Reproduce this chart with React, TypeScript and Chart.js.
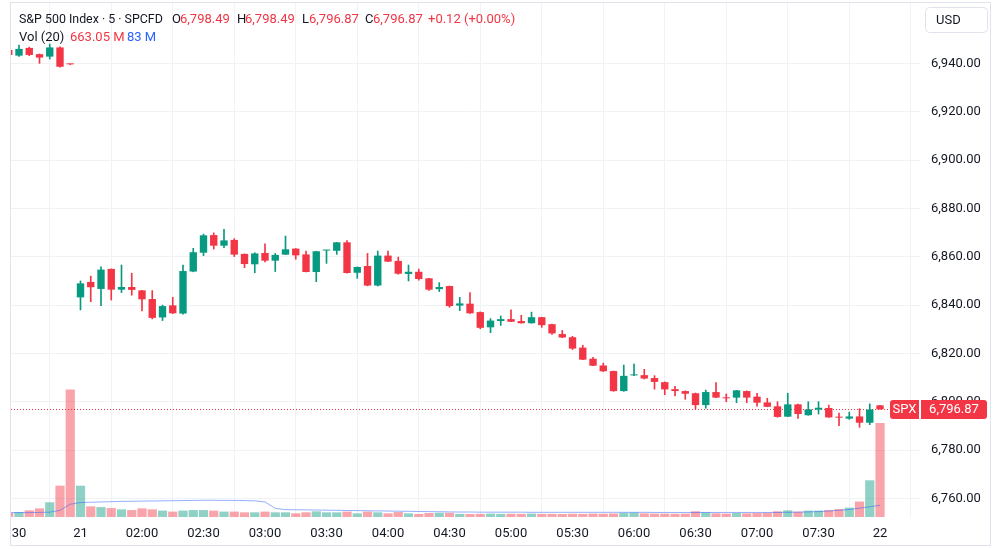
import React, { useEffect, useRef } from "react";
import { Chart, registerables } from "chart.js";

Chart.register(...registerables);

// Candle index of the first entry in the arrays below (one candle is partly cut off on the left)
const FIRST_INDEX = -1;

const opens = [
  6945.6, 6943.3, 6946.5, 6943.9, 6942.9, 6946.7, 6939.8,
  6843.2, 6849.6, 6846.7, 6855.0, 6846.4, 6847.5, 6846.1, 6842.5, 6834.9, 6839.9,
  6836.5, 6853.9, 6861.7, 6869.0, 6864.6, 6867.0, 6861.2, 6856.9, 6861.6, 6858.4,
  6860.9, 6863.4, 6861.0, 6853.7, 6862.6, 6862.5, 6866.0, 6853.4, 6856.2, 6848.1,
  6860.5, 6858.3, 6852.9, 6853.8, 6851.1, 6846.6, 6847.9, 6839.8, 6840.6, 6837.1,
  6830.8, 6833.4, 6834.2, 6833.4, 6832.5, 6835.0, 6832.1, 6828.0, 6826.7, 6822.4,
  6817.8, 6815.0, 6812.7, 6804.4, 6810.9, 6811.0, 6809.8, 6808.1, 6805.2, 6804.4,
  6803.5, 6798.6, 6804.0, 6801.7, 6801.7, 6804.4, 6802.1, 6799.7, 6798.1, 6793.8,
  6798.9, 6794.4, 6796.7, 6797.4, 6793.7, 6793.0, 6793.9, 6791.3, 6798.49,
];
const highs = [
  6946.5, 6947.7, 6946.8, 6944.0, 6948.1, 6947.0, 6939.8,
  6850.0, 6852.0, 6855.9, 6855.0, 6856.6, 6853.2, 6846.1, 6846.0, 6840.0, 6843.2,
  6856.6, 6863.5, 6869.4, 6869.9, 6871.4, 6867.5, 6861.2, 6861.7, 6865.4, 6861.4,
  6868.6, 6863.4, 6862.4, 6862.3, 6862.7, 6866.0, 6866.7, 6855.8, 6861.4, 6862.4,
  6862.4, 6859.9, 6856.6, 6854.9, 6851.1, 6849.3, 6847.9, 6843.2, 6845.2, 6837.2,
  6834.4, 6835.5, 6838.0, 6835.8, 6837.1, 6835.0, 6832.1, 6829.5, 6827.1, 6823.4,
  6818.4, 6816.0, 6812.7, 6815.2, 6815.6, 6813.4, 6810.8, 6808.2, 6806.4, 6804.5,
  6803.6, 6804.8, 6807.9, 6803.2, 6804.7, 6804.5, 6803.5, 6801.4, 6800.0, 6803.5,
  6799.0, 6800.0, 6800.0, 6798.6, 6795.3, 6795.7, 6797.1, 6799.1, 6798.49,
];
const lows = [
  6943.0, 6943.0, 6943.3, 6940.1, 6941.9, 6938.5, 6939.6,
  6838.0, 6841.4, 6839.8, 6842.1, 6845.2, 6844.1, 6837.6, 6834.3, 6833.6, 6836.5,
  6836.3, 6853.8, 6860.5, 6863.2, 6863.8, 6860.1, 6855.5, 6853.4, 6857.9, 6853.9,
  6860.9, 6859.0, 6853.7, 6849.7, 6857.3, 6861.0, 6853.2, 6851.1, 6848.0, 6847.9,
  6858.0, 6852.8, 6850.0, 6850.3, 6846.1, 6845.6, 6839.1, 6837.7, 6836.6, 6830.2,
  6828.6, 6831.6, 6833.1, 6832.5, 6832.5, 6830.8, 6827.9, 6826.5, 6821.6, 6817.4,
  6814.9, 6812.5, 6804.3, 6804.3, 6810.8, 6809.4, 6805.2, 6802.9, 6802.4, 6801.0,
  6797.0, 6797.3, 6801.7, 6800.0, 6799.6, 6799.6, 6798.2, 6797.9, 6793.6, 6793.8,
  6793.1, 6794.4, 6794.9, 6793.5, 6790.1, 6792.7, 6789.4, 6790.5, 6796.87,
];
const closes = [
  6943.6, 6946.1, 6943.6, 6942.5, 6946.7, 6938.7, 6939.7,
  6849.0, 6847.4, 6854.7, 6846.4, 6847.5, 6846.3, 6842.4, 6834.7, 6839.6, 6836.6,
  6854.1, 6861.9, 6868.9, 6864.6, 6866.8, 6860.9, 6857.0, 6861.4, 6858.4, 6860.8,
  6863.1, 6860.6, 6853.7, 6862.3, 6862.7, 6866.0, 6853.3, 6855.8, 6848.1, 6860.5,
  6858.0, 6853.0, 6853.8, 6850.8, 6846.4, 6847.5, 6839.6, 6840.7, 6836.6, 6830.6,
  6833.6, 6834.2, 6833.1, 6832.5, 6835.0, 6831.7, 6828.3, 6826.6, 6822.0, 6817.4,
  6814.9, 6812.6, 6804.4, 6810.7, 6811.0, 6809.6, 6808.2, 6805.1, 6804.4, 6803.3,
  6798.6, 6804.0, 6801.7, 6801.4, 6804.7, 6801.7, 6799.6, 6797.9, 6793.7, 6798.9,
  6794.9, 6796.8, 6797.5, 6793.5, 6793.4, 6793.9, 6791.3, 6796.8, 6796.87,
];
// Volume in millions
const volumes = [
  30, 35, 47, 61, 104, 221, 900,
  221, 75, 70, 63, 54, 49, 61, 54, 45, 38,
  45, 49, 49, 45, 38, 38, 33, 33, 38, 33,
  33, 26, 33, 40, 33, 33, 38, 26, 38, 33,
  26, 35, 26, 21, 28, 30, 30, 22, 21, 22,
  24, 22, 23, 22, 24, 22, 22, 21, 23, 22,
  24, 23, 25, 30, 32, 26, 24, 24, 23, 24,
  40, 33, 26, 24, 28, 26, 28, 30, 40, 47,
  38, 45, 45, 49, 56, 66, 109, 259, 663.05,
];
// Vol (20) moving-average line, millions
const volMA = [
  31, 31, 31, 32, 34, 47, 90,
  102, 104, 106, 108, 110, 111, 112, 113, 114, 115,
  116, 117, 118, 118, 117, 117, 116, 114, 106, 61,
  52, 51, 50, 49, 48, 47, 46, 45, 44, 43,
  42, 41, 40, 39, 38, 37, 36, 35, 35, 34,
  34, 34, 34, 34, 33, 33, 33, 33, 33, 33,
  33, 33, 33, 33, 33, 33, 32, 32, 32, 32,
  32, 32, 32, 32, 32, 32, 32, 32, 32, 33,
  34, 36, 38, 42, 47, 53, 62, 72, 83,
];

const timeTickIdx = [0, 6, 12, 18, 24, 30, 36, 42, 48, 54, 60, 66, 72, 78, 84];
const timeTickLabels = [
  "30", "21", "02:00", "02:30", "03:00", "03:30", "04:00", "04:30",
  "05:00", "05:30", "06:00", "06:30", "07:00", "07:30", "22",
];
const priceTicks = [6760, 6780, 6800, 6820, 6840, 6860, 6880, 6900, 6920, 6940];

const LAST_PRICE = 6796.87;
const UP = "#089981";
const DOWN = "#F23645";
const UP_VOL = "rgba(8,153,129,0.45)";
const DOWN_VOL = "rgba(242,54,69,0.45)";
const FONT = "Roboto, 'Noto Sans', sans-serif";
const TEXT = "#131722";

const fmt = (v: number) =>
  v.toLocaleString("en-US", { minimumFractionDigits: 2, maximumFractionDigits: 2 });

export default function App() {
  const ref = useRef<HTMLCanvasElement | null>(null);

  useEffect(() => {
    const canvas = ref.current;
    if (!canvas) return;
    const idx = opens.map((_, k) => k + FIRST_INDEX);
    const isUp = opens.map((o, k) => closes[k] >= o);
    const candleColors = isUp.map((u) => (u ? UP : DOWN));
    const volColors = isUp.map((u) => (u ? UP_VOL : DOWN_VOL));

    const overlay = {
      id: "overlay",
      beforeDatasetsDraw(chart: any) {
        const { ctx, chartArea, scales } = chart;
        const y = Math.round(scales.y.getPixelForValue(LAST_PRICE)) + 0.5;
        ctx.save();
        ctx.strokeStyle = DOWN;
        ctx.lineWidth = 1;
        ctx.setLineDash([1, 2]);
        ctx.beginPath();
        ctx.moveTo(chartArea.left, y);
        ctx.lineTo(chartArea.right, y);
        ctx.stroke();
        ctx.restore();
      },
      afterDraw(chart: any) {
        const { ctx, chartArea, scales } = chart;
        ctx.save();
        // widget frame
        ctx.strokeStyle = "#E0E3EB";
        ctx.lineWidth = 1;
        ctx.strokeRect(10.5, 2.5, 980, 543);

        ctx.textBaseline = "middle";
        const put = (t: string, x: number, yy: number, c: string, size = 13) => {
          ctx.font = `${size}px ${FONT}`;
          ctx.fillStyle = c;
          ctx.fillText(t, x, yy);
        };
        // legend line 1
        const l1 = 20;
        put("S&P 500 Index · 5 · SPCFD", 19, l1, TEXT, 12.4);
        put("O", 172, l1, TEXT);
        put(fmt(opens[opens.length - 1]), 180, l1, DOWN);
        put("H", 237, l1, TEXT);
        put(fmt(highs[highs.length - 1]), 245, l1, DOWN);
        put("L", 302, l1, TEXT);
        put(fmt(lows[lows.length - 1]), 309, l1, DOWN);
        put("C", 365, l1, TEXT);
        put(fmt(closes[closes.length - 1]), 373, l1, DOWN);
        put("+0.12 (+0.00%)", 428, l1, DOWN);
        // legend line 2
        const l2 = 38;
        put("Vol (20)", 19, l2, TEXT);
        put("663.05 M", 70, l2, DOWN);
        put("83 M", 127, l2, "#2962FF");

        // USD box
        ctx.strokeStyle = "#E0E3EB";
        ctx.beginPath();
        ctx.roundRect(925.5, 7.5, 62, 25, 4);
        ctx.stroke();
        put("USD", 936, 20.5, TEXT);

        // last price labels
        const py = scales.y.getPixelForValue(LAST_PRICE);
        const top = Math.round(py) - 9;
        ctx.fillStyle = DOWN;
        ctx.beginPath();
        ctx.roundRect(890, top, 29, 19, [3, 0, 0, 3]);
        ctx.fill();
        ctx.beginPath();
        ctx.roundRect(chartArea.right + 1, top, 66, 19, [0, 3, 3, 0]);
        ctx.fill();
        ctx.fillStyle = "#FFFFFF";
        ctx.textAlign = "center";
        ctx.font = `13px ${FONT}`;
        ctx.fillText("SPX", 904.5, top + 10);
        ctx.fillText(fmt(LAST_PRICE), chartArea.right + 34, top + 10);
        ctx.restore();
      },
    };

    const chart = new Chart(canvas, {
      type: "bar",
      data: {
        datasets: [
          {
            type: "bar",
            data: idx.map((x, k) => ({ x, y: [opens[k], closes[k]] })),
            backgroundColor: candleColors,
            borderWidth: 0,
            barPercentage: 0.72,
            categoryPercentage: 1,
            grouped: false,
            minBarLength: 1,
            yAxisID: "y",
            order: 0,
          },
          {
            type: "bar",
            data: idx.map((x, k) => ({ x, y: [lows[k], highs[k]] })),
            backgroundColor: candleColors,
            borderWidth: 0,
            barThickness: 1,
            grouped: false,
            yAxisID: "y",
            order: 1,
          },
          {
            type: "line",
            data: idx.map((x, k) => ({ x, y: volMA[k] })),
            borderColor: "rgba(41,98,255,0.5)",
            borderWidth: 1,
            pointRadius: 0,
            yAxisID: "vol",
            order: 2,
          },
          {
            type: "bar",
            data: idx.map((x, k) => ({ x, y: volumes[k] })),
            backgroundColor: volColors,
            borderWidth: 0,
            barPercentage: 0.9,
            categoryPercentage: 1,
            grouped: false,
            yAxisID: "vol",
            order: 3,
          },
        ] as any,
      },
      options: {
        responsive: false,
        animation: false,
        layout: { padding: { left: 11, top: 3, right: 0, bottom: 0 } },
        plugins: { legend: { display: false }, tooltip: { enabled: false } },
        scales: {
          x: {
            type: "linear",
            min: -0.78,
            max: 87.9,
            offset: false,
            border: { display: false },
            grid: {
              drawTicks: false,
              color: (c: any) => (c.tick && c.tick.value === 0 ? "rgba(0,0,0,0)" : "#F0F2F5"),
            },
            ticks: {
              autoSkip: false,
              maxRotation: 0,
              padding: 9,
              color: TEXT,
              font: { family: FONT, size: 13 },
              callback: (v: any) => {
                const p = timeTickIdx.indexOf(Number(v));
                return p >= 0 ? timeTickLabels[p] : "";
              },
            },
            afterBuildTicks: (s: any) => {
              s.ticks = timeTickIdx.map((value) => ({ value }));
            },
            afterFit: (s: any) => {
              s.height = 32;
              s.paddingLeft = 0;
              s.paddingRight = 0;
            },
          },
          y: {
            type: "linear",
            position: "right",
            min: 6752.26,
            max: 6965.1,
            border: { display: false },
            grid: { drawTicks: false, color: "#F0F2F5" },
            ticks: {
              padding: 11,
              color: TEXT,
              font: { family: FONT, size: 13 },
              callback: (v: any) => fmt(Number(v)),
            },
            afterBuildTicks: (s: any) => {
              s.ticks = priceTicks.map((value) => ({ value }));
            },
            afterFit: (s: any) => {
              s.width = 80;
              s.paddingTop = 0;
              s.paddingBottom = 0;
            },
          },
          vol: {
            type: "linear",
            display: false,
            min: 0,
            max: 3626,
          },
        },
      } as any,
      plugins: [overlay],
    });
    return () => chart.destroy();
  }, []);

  return (
    <div style={{ position: "absolute", left: 0, top: 0, width: 1000, height: 549, background: "#fff" }}>
      <canvas ref={ref} width={1000} height={549} style={{ display: "block" }} />
    </div>
  );
}
